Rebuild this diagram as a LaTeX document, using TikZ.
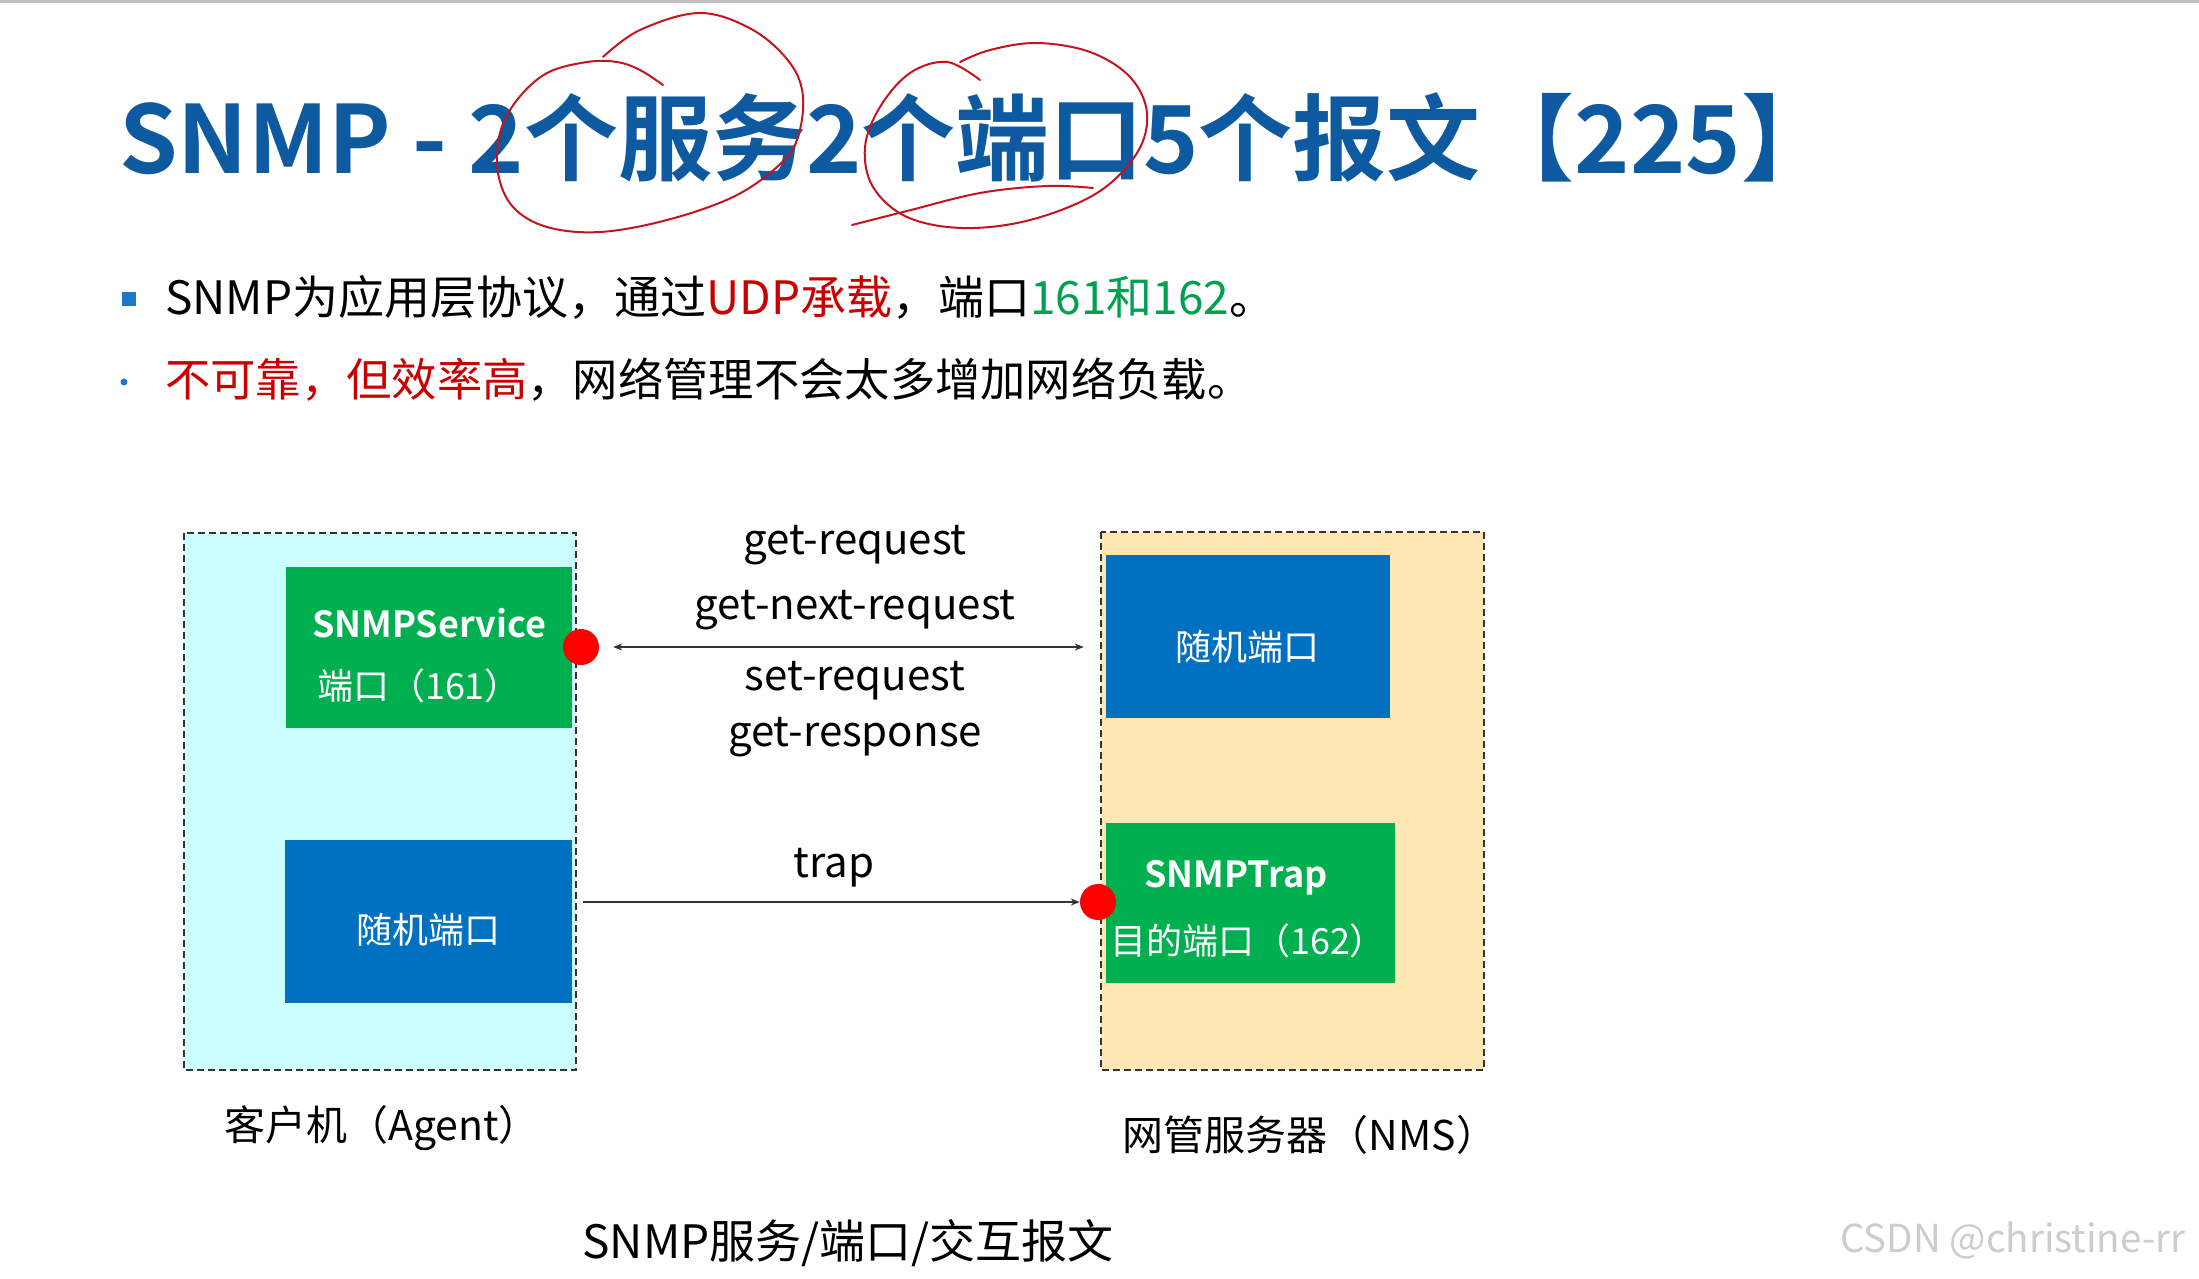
\documentclass[tikz,border=0pt]{standalone}
\usepackage{fontspec}
\setmainfont{Noto Sans CJK SC}[BoldFont={Noto Sans CJK SC Bold}]
\usetikzlibrary{arrows.meta}
\definecolor{titleblue}{RGB}{14,90,160}
\definecolor{bulletblue}{RGB}{31,119,200}
\definecolor{txtred}{RGB}{200,0,0}
\definecolor{txtgreen}{RGB}{0,160,80}
\definecolor{boxgreen}{RGB}{0,176,80}
\definecolor{boxblue}{RGB}{0,112,192}
\definecolor{cyanbg}{RGB}{204,255,255}
\definecolor{yellowbg}{RGB}{255,231,179}
\definecolor{penred}{RGB}{196,20,30}
\definecolor{linegray}{RGB}{51,51,51}
\definecolor{wmgray}{RGB}{205,205,205}
\definecolor{topgray}{RGB}{190,190,190}
\tikzset{
  mytip/.tip={Stealth[length=9pt,width=7pt]},
  hostbox/.style={draw=linegray, line width=2pt, dash pattern=on 7pt off 4pt},
  portbox/.style={inner sep=0pt},
  boxtxt/.style={text=white, inner sep=0pt, font=\fontsize{36}{36}\selectfont},
  boldtxt/.style={text=white, inner sep=0pt, font=\fontsize{36}{36}\selectfont\bfseries},
  msg/.style={inner sep=0pt, font=\fontsize{42}{42}\selectfont},
  caption/.style={inner sep=0pt, font=\fontsize{41}{41}\selectfont},
  dot/.style={circle, fill=red, minimum size=36pt, inner sep=0pt},
  conn/.style={draw=linegray, line width=2pt},
  pen/.style={draw=penred, line width=2pt, line cap=round, line join=round},
}
\begin{document}
\begin{tikzpicture}[x=1pt,y=-1pt]
\useasboundingbox (0,0) rectangle (2199,1278);
\fill[white] (0,0) rectangle (2199,1278);
\fill[topgray] (0,0) rectangle (2199,3);

% title
\node[anchor=base west, inner sep=0pt, text=titleblue, font=\fontsize{94}{94}\selectfont\bfseries] (title) at (119,173) {SNMP - 2个服务2个端口5个报文【225】};

% hand-drawn circles
\draw[pen] plot[smooth, tension=0.6] coordinates {(603,57) (640,30) (700,13) (753,30) (790,63) (803,97) (797,140) (777,167) (733,197) (667,220) (600,232) (547,227) (513,207) (498,173) (500,133) (517,100) (547,73) (587,62) (617,62) (640,70) (663,85)};
\draw[pen] plot[smooth, tension=0.6] coordinates {(980,80) (947,62) (910,73) (880,107) (865,147) (873,187) (907,217) (963,228) (1030,220) (1097,193) (1137,153) (1147,113) (1130,77) (1090,52) (1037,43) (990,50) (960,62)};
\draw[pen] plot[smooth, tension=0.6] coordinates {(852,225) (907,211) (980,193) (1047,186) (1093,188)};

% bullets
\fill[bulletblue] (122,292) rectangle (136,306);
\node[anchor=base west, inner sep=0pt, font=\fontsize{46}{46}\selectfont] (b1) at (165,314) {SNMP为应用层协议，通过\textcolor{txtred}{UDP承载}，端口\textcolor{txtgreen}{161和162}。};
\fill[bulletblue] (124,382) circle (3.5);
\node[anchor=base west, inner sep=0pt, font=\fontsize{45.3}{45.3}\selectfont] (b2) at (165,396) {\textcolor{txtred}{不可靠，但效率高}，网络管理不会太多增加网络负载。};

% host boxes
\filldraw[hostbox, fill=cyanbg] (184,533) rectangle (576,1070);
\filldraw[hostbox, fill=yellowbg] (1101,532) rectangle (1484,1070);

% agent side
\node[portbox, fill=boxgreen, minimum width=286pt, minimum height=161pt] (svc) at (429,647.5) {};
\node[boldtxt] (svct) at (429,623) {SNMPService};
\node[boxtxt] (svcp) at (419,686) {端口（161）};
\node[portbox, fill=boxblue, minimum width=287pt, minimum height=163pt] (lrand) at (428.5,921.5) {};
\node[boxtxt] (lrandt) at (428,930) {随机端口};
\node[dot] (ldot) at (581,647) {};

% nms side
\node[portbox, fill=boxblue, minimum width=284pt, minimum height=163pt] (rrand) at (1248,636.5) {};
\node[boxtxt] (rrandt) at (1247,647) {随机端口};
\node[portbox, fill=boxgreen, minimum width=289pt, minimum height=160pt] (trap) at (1250.5,903) {};
\node[boldtxt] (trapt) at (1236,878) {SNMPTrap};
\node[boxtxt] (trapp) at (1248,941) {目的端口（162）};
\node[dot] (rdot) at (1098,902) {};

% connectors
\draw[conn, {mytip}-{mytip}] ([xshift=14pt]ldot.east) -- ([xshift=-22pt]ldot.east -| rrand.west);
\draw[conn, -{mytip}] ([xshift=11pt]lrand.east |- rdot.west) -- (rdot.west);

% message labels
\node[msg] (m1) at (855,545) {get-request};
\node[msg] (m2) at (855,610) {get-next-request};
\node[msg] (m3) at (855,681) {set-request};
\node[msg] (m4) at (855,737) {get-response};
\node[msg] (m5) at (834,868) {trap};

% captions
\node[caption] (agent) at (382,1128) {客户机（Agent）};
\node[caption] (nms) at (1310,1135) {网管服务器（NMS）};
\node[inner sep=0pt, font=\fontsize{46}{46}\selectfont] (cap) at (848,1243) {SNMP服务/端口/交互报文};
\node[anchor=west, inner sep=0pt, text=wmgray, font=\fontsize{38.5}{38.5}\selectfont] (wm) at (1840,1240) {CSDN @christine-rr};
\end{tikzpicture}
\end{document}
